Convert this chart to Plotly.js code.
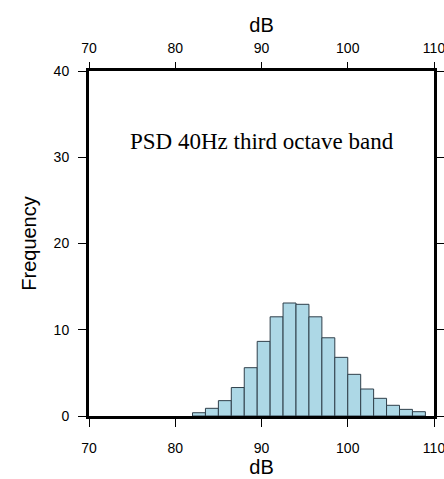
<!DOCTYPE html>
<html>
<head>
<meta charset="utf-8">
<script src="https://cdn.plot.ly/plotly-3.0.1.min.js"></script>
<style>html,body{margin:0;padding:0;background:#fff;}#chart{width:444px;height:479px;}</style>
</head>
<body>
<div id="chart"></div>
<script>
// Bin start (dB), bin width 1.5
const binStart = [82, 83.5, 85, 86.5, 88, 89.5, 91, 92.5, 94, 95.5, 97, 98.5, 100, 101.5, 103, 104.5, 106, 107.5];
const binWidth = 1.5;
const frequency = [0.38, 0.89, 1.78, 3.3, 5.6, 8.65, 11.5, 13.1, 12.95, 11.5, 9.07, 6.8, 4.83, 3.13, 2.05, 1.24, 0.77, 0.5];
const xTicks = [70, 80, 90, 100, 110];
const yTicks = [0, 10, 20, 30, 40];
const panelTitle = "PSD 40Hz third octave band";

const sans = "Liberation Sans, Arial, sans-serif";
const serif = "Liberation Serif, Times New Roman, serif";

const traces = [
  {
    type: "bar",
    x: binStart,
    y: frequency,
    width: binStart.map(() => binWidth),
    offset: 0,
    marker: {color: "#ADD8E6", line: {color: "#2f3f4a", width: 1}},
    hoverinfo: "x+y",
    showlegend: false
  },
  {
    type: "scatter",
    x: [],
    y: [],
    xaxis: "x2",
    yaxis: "y",
    showlegend: false,
    hoverinfo: "skip"
  }
];

const layout = {
  width: 444,
  height: 479,
  margin: {l: 89, r: 10, t: 71, b: 63, pad: 0},
  paper_bgcolor: "#ffffff",
  plot_bgcolor: "#ffffff",
  bargap: 0,
  showlegend: false,
  font: {family: sans, color: "#000"},
  xaxis: {
    range: [70, 110],
    tickvals: xTicks,
    ticktext: xTicks.map(String),
    ticks: "outside",
    ticklen: 8,
    tickwidth: 1,
    tickcolor: "#000",
    showline: true,
    linewidth: 3,
    linecolor: "#000",
    mirror: true,
    showgrid: false,
    zeroline: false,
    ticklabeloverflow: "allow",
    tickfont: {size: 14, family: sans, color: "#000"},
    ticklabelstandoff: 9,
    title: {text: "dB", font: {size: 20, family: sans, color: "#000"}, standoff: 0}
  },
  xaxis2: {
    overlaying: "x",
    side: "top",
    range: [70, 110],
    tickvals: xTicks,
    ticktext: xTicks.map(String),
    ticks: "outside",
    ticklen: 8,
    tickwidth: 1,
    tickcolor: "#000",
    showline: false,
    showgrid: false,
    zeroline: false,
    ticklabeloverflow: "allow",
    tickfont: {size: 14, family: sans, color: "#000"},
    ticklabelstandoff: 3,
    title: {text: "dB", font: {size: 20, family: sans, color: "#000"}, standoff: 2}
  },
  yaxis: {
    range: [0, 40],
    tickvals: yTicks,
    ticktext: yTicks.map(String),
    ticks: "outside",
    ticklen: 8,
    tickwidth: 1,
    tickcolor: "#000",
    showline: true,
    linewidth: 3,
    linecolor: "#000",
    mirror: "ticks",
    showgrid: false,
    zeroline: false,
    ticklabeloverflow: "allow",
    tickfont: {size: 14, family: sans, color: "#000"},
    ticklabelstandoff: 6,
    title: {text: "Frequency", font: {size: 20, family: sans, color: "#000"}, standoff: 12}
  },
  annotations: [
    {
      text: panelTitle,
      xref: "x", yref: "y",
      x: 90, y: 31.8,
      showarrow: false,
      font: {family: serif, size: 23, color: "#000"}
    }
  ]
};

Plotly.newPlot("chart", traces, layout, {displayModeBar: false, staticPlot: true});
</script>
</body>
</html>
